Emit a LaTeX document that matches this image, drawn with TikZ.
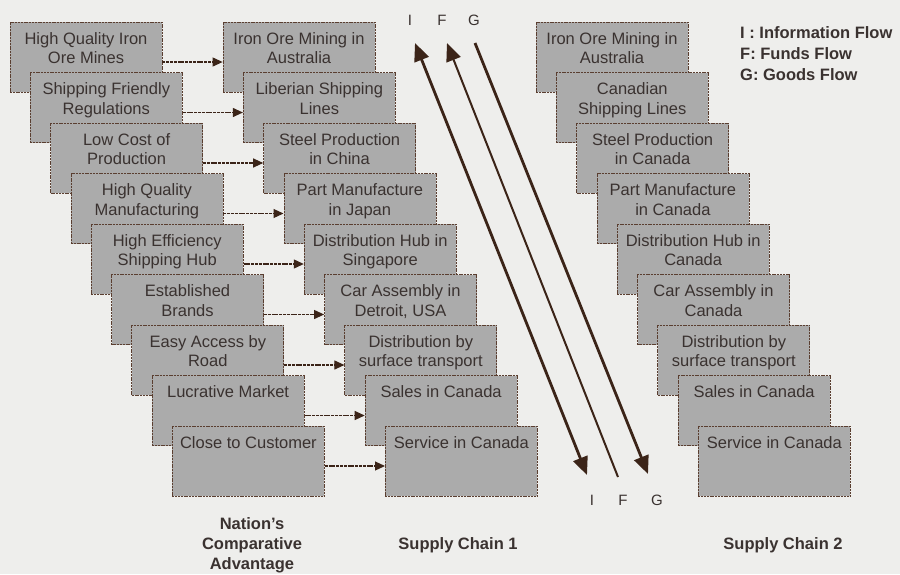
\documentclass[tikz,border=0pt]{standalone}
\usepackage{fontspec}
\setmainfont{Liberation Sans}
\usetikzlibrary{arrows.meta}
\definecolor{bgc}{HTML}{EEEEEC}
\definecolor{boxfill}{HTML}{ABABAB}
\definecolor{boxline}{HTML}{5A3E30}
\definecolor{arrowc}{HTML}{3B2418}
\definecolor{txt}{HTML}{3A3230}
\begin{document}
\begin{tikzpicture}[x=1pt,y=-1pt,
  box/.style={draw=boxline, fill=boxfill, line width=0.8pt, dash pattern=on 2pt off 0.8pt,
    inner sep=0pt, minimum width=152pt, minimum height=70pt, text=txt,
    execute at begin node={\begin{minipage}[c][70pt][t]{152pt}\fontsize{16.5}{19.5}\selectfont\centering\rule{0pt}{22pt}},
    execute at end node={\end{minipage}}},
  link/.style={-{Triangle[length=10pt,width=9pt]}, draw=arrowc, line width=1.1pt, dash pattern=on 3pt off 0.8pt},
  flow/.style={draw=arrowc, line width=2.8pt},
  thinflow/.style={draw=arrowc, line width=2pt},
  bighead/.tip={Triangle[length=18pt,width=15pt]},
  flowlbl/.style={text=txt, font=\fontsize{15}{18}\selectfont, inner sep=0pt},
  caption/.style={text=txt, font=\fontsize{16.5}{20}\selectfont\bfseries, align=center, inner sep=0pt},
  legend/.style={text=txt, font=\fontsize{16.5}{21}\selectfont\bfseries, align=left, inner sep=0pt}]
\fill[bgc] (0,0) rectangle (900,574);
\useasboundingbox (0,0) rectangle (900,574);

% Nation's comparative advantage column
\node[box] (a1) at (86,57) {High Quality Iron\\Ore Mines};
\node[box] (a2) at (106.3,107.5) {Shipping Friendly\\Regulations};
\node[box] (a3) at (126.6,158) {Low Cost of\\Production};
\node[box] (a4) at (146.9,208.5) {High Quality\\Manufacturing};
\node[box] (a5) at (167.2,259) {High Efficiency\\Shipping Hub};
\node[box] (a6) at (187.5,309.5) {Established\\Brands};
\node[box] (a7) at (207.8,360) {Easy Access by\\Road};
\node[box] (a8) at (228.1,410.5) {Lucrative Market};
\node[box] (a9) at (248.4,461) {Close to Customer};

% Supply chain 1
\node[box] (b1) at (299,57) {Iron Ore Mining in\\Australia};
\node[box] (b2) at (319.3,107.5) {Liberian Shipping\\Lines};
\node[box] (b3) at (339.6,158) {Steel Production\\in China};
\node[box] (b4) at (359.9,208.5) {Part Manufacture\\in Japan};
\node[box] (b5) at (380.2,259) {Distribution Hub in\\Singapore};
\node[box] (b6) at (400.5,309.5) {Car Assembly in\\Detroit, USA};
\node[box] (b7) at (420.8,360) {Distribution by\\surface transport};
\node[box] (b8) at (441.1,410.5) {Sales in Canada};
\node[box] (b9) at (461.4,461) {Service in Canada};

% Supply chain 2
\node[box] (c1) at (612,57) {Iron Ore Mining in\\Australia};
\node[box] (c2) at (632.3,107.5) {Canadian\\Shipping Lines};
\node[box] (c3) at (652.6,158) {Steel Production\\in Canada};
\node[box] (c4) at (672.9,208.5) {Part Manufacture\\in Canada};
\node[box] (c5) at (693.2,259) {Distribution Hub in\\Canada};
\node[box] (c6) at (713.5,309.5) {Car Assembly in\\Canada};
\node[box] (c7) at (733.8,360) {Distribution by\\surface transport};
\node[box] (c8) at (754.1,410.5) {Sales in Canada};
\node[box] (c9) at (774.4,461) {Service in Canada};

% links
\foreach \i in {1,...,9}{
  \draw[link] ([yshift=-5pt]a\i.east) -- ([yshift=-5pt]b\i.west);
}

% flows
\coordinate (Itop) at (415,43);
\coordinate (Ibot) at (587,475);
\coordinate (Ftop) at (447,43);
\coordinate (Fbot) at (618,477);
\coordinate (Gtop) at (475,43);
\coordinate (Gbot) at (648,474);
\draw[flow, bighead-bighead] (Itop) -- (Ibot);
\draw[thinflow, -bighead] (Fbot) -- (Ftop);
\draw[flow, -bighead] (Gtop) -- (Gbot);

\node[flowlbl] (lI1) at (410,20) {I};
\node[flowlbl] (lF1) at (442,20) {F};
\node[flowlbl] (lG1) at (474,20) {G};
\node[flowlbl] (lI2) at (592,500) {I};
\node[flowlbl] (lF2) at (623,500) {F};
\node[flowlbl] (lG2) at (657,500) {G};

% captions
\node[caption] (capA) at (252,545) {Nation’s\\Comparative\\Advantage};
\node[caption] (capB) at (458,545) {Supply Chain 1};
\node[caption] (capC) at (783,545) {Supply Chain 2};

% legend
\node[legend, anchor=north west] (leg) at (740,26) {I : Information Flow\\F: Funds Flow\\G: Goods Flow};
\end{tikzpicture}
\end{document}
